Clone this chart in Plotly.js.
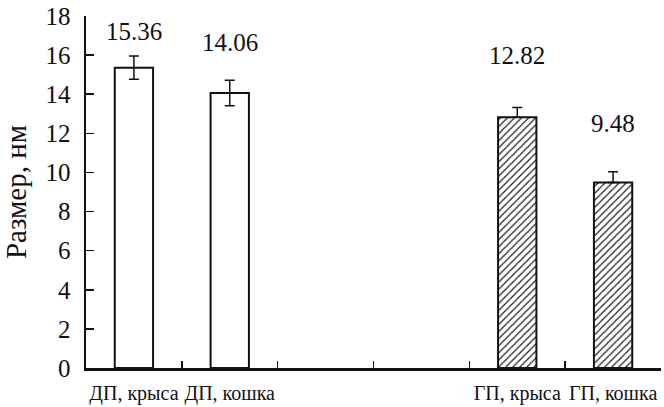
<!DOCTYPE html>
<html><head><meta charset="utf-8">
<script src="https://cdn.plot.ly/plotly-3.0.1.min.js"></script>
<style>html,body{margin:0;padding:0;background:#fff}</style>
</head><body><div id="chart" style="width:664px;height:407px"></div>
<script>
const categories = ["ДП, крыса", "ДП, кошка", " ", "  ", "ГП, крыса", "ГП, кошка"];
const dpCats = ["ДП, крыса", "ДП, кошка"];
const dpValues = [15.36, 14.06];
const dpErrors = [0.6, 0.65];
const gpCats = ["ГП, крыса", "ГП, кошка"];
const gpValues = [12.82, 9.48];
const gpErrors = [0.5, 0.55];
const labelTexts = ["15.36", "14.06", "12.82", "9.48"];
const labelCats = ["ДП, крыса", "ДП, кошка", "ГП, крыса", "ГП, кошка"];
const labelY = [17.2, 16.65, 16.0, 12.5];
const yTicks = [0, 2, 4, 6, 8, 10, 12, 14, 16, 18];

const font = "Liberation Serif";
const traces = [
  {type: "bar", x: dpCats, y: dpValues, width: 0.4,
   marker: {color: "#fff", line: {color: "#111", width: 2}},
   error_y: {type: "data", array: dpErrors, visible: true, color: "#111", thickness: 1.5, width: 5}},
  {type: "bar", x: gpCats, y: gpValues, width: 0.4,
   marker: {color: "#fff", line: {color: "#111", width: 2},
            pattern: {shape: "/", fgcolor: "#222", bgcolor: "#fff", size: 5, solidity: 0.25}},
   error_y: {type: "data", array: gpErrors, arrayminus: [0, 0], symmetric: false, visible: true, color: "#111", thickness: 1.5, width: 5}}
];
const annotations = labelTexts.map((t, i) => ({
  x: labelCats[i], y: labelY[i], text: t, showarrow: false,
  font: {family: font, size: 25, color: "#111"}, xref: "x", yref: "y"
}));
const layout = {
  width: 664, height: 407,
  margin: {l: 86, r: 3, t: 16, b: 39},
  paper_bgcolor: "#fff", plot_bgcolor: "#fff",
  showlegend: false, barmode: "overlay",
  font: {family: font, color: "#111"},
  xaxis: {type: "category", categoryorder: "array", categoryarray: categories,
          range: [-0.5, 5.5], tickson: "boundaries", ticks: "inside", ticklen: 7, tickwidth: 1.5, tickcolor: "#111",
          tickangle: 0, ticklabelstandoff: 5,
          showline: true, linecolor: "#111", linewidth: 2.5, showgrid: false, zeroline: false,
          tickfont: {family: font, size: 20, color: "#111"}},
  yaxis: {range: [0, 18], tickvals: yTicks, ticks: "inside", ticklen: 8, tickwidth: 1.5, tickcolor: "#111",
          showline: true, linecolor: "#111", linewidth: 2.5, showgrid: false, zeroline: false,
          ticklabelstandoff: 8,
          tickfont: {family: font, size: 25, color: "#111"},
          title: {text: "Размер, нм", font: {family: font, size: 29, color: "#111"}, standoff: 12}},
  annotations: annotations
};
Plotly.newPlot("chart", traces, layout, {staticPlot: true, displayModeBar: false});
</script></body></html>
